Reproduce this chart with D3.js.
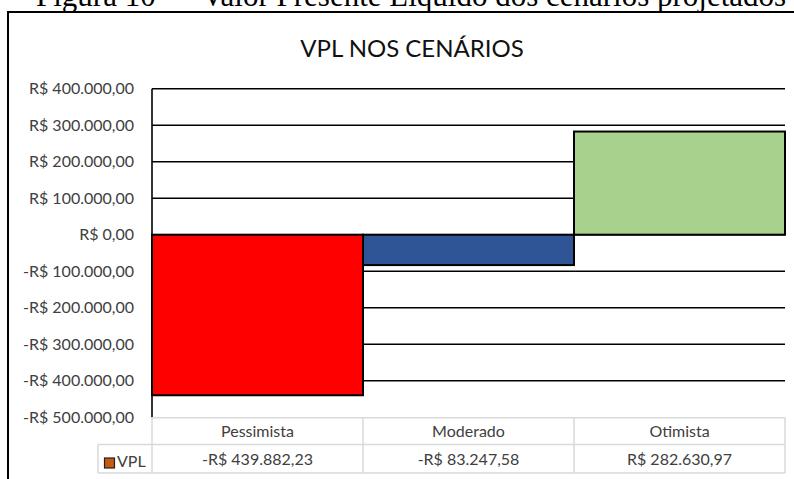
<!DOCTYPE html>
<html>
<head>
<meta charset="utf-8">
<script src="https://cdn.jsdelivr.net/npm/d3@7"></script>
<style>
  body { margin: 0; background: #fff; }
  svg { display: block; }
  .lbl { font-family: Lato, "Open Sans", sans-serif; fill: #404040; }
</style>
</head>
<body>
<div id="chart"></div>
<script>
// data
const categories = ["Pessimista", "Moderado", "Otimista"];
const vplValues = [-439882.23, -83247.58, 282630.97];
const barColors = ["#FF0000", "#2F5597", "#A9D18E"];
const yTicks = [400000, 300000, 200000, 100000, 0, -100000, -200000, -300000, -400000, -500000];
const seriesName = "VPL";
const chartTitle = "VPL NOS CENÁRIOS";
const caption = "Figura 10 — Valor Presente Líquido dos cenários projetados";

const W = 794, H = 479;

const svg = d3.select("#chart").append("svg")
  .attr("width", W)
  .attr("height", H);

// brazilian currency format
const ptBR = d3.formatLocale({
  decimal: ",",
  thousands: ".",
  grouping: [3],
  currency: ["R$ ", ""],
  minus: "-"
});
const money = ptBR.format("$,.2f");

// caption above the chart (cut off at top in the source)
svg.append("text")
  .attr("x", 36)
  .attr("y", 6)
  .style("font-family", "'Liberation Serif', 'Times New Roman', serif")
  .style("font-size", "31px")
  .attr("fill", "#000")
  .text(caption);

// chart frame
svg.append("rect")
  .attr("x", 8)
  .attr("y", 12)
  .attr("width", 820)
  .attr("height", 500)
  .attr("fill", "none")
  .attr("stroke", "#000")
  .attr("stroke-width", 2);

svg.append("text")
  .attr("class", "lbl")
  .attr("x", 412)
  .attr("y", 57)
  .attr("text-anchor", "middle")
  .style("font-size", "24px")
  .style("fill", "#111")
  .text(chartTitle);

const plotLeft = 152, plotRight = 785;

const y = d3.scaleLinear()
  .domain([-500000, 400000])
  .range([417.2, 88.7]);

const x = d3.scaleBand()
  .domain(categories)
  .range([plotLeft, plotRight])
  .padding(0);

// gridlines
svg.append("g")
  .selectAll("line")
  .data(yTicks.filter(d => d > -500000))
  .join("line")
  .attr("x1", plotLeft)
  .attr("x2", plotRight)
  .attr("y1", d => y(d))
  .attr("y2", d => y(d))
  .attr("stroke", "#000")
  .attr("stroke-width", 1.6);

// y axis with currency labels
const yAxis = d3.axisLeft(y)
  .tickValues(yTicks)
  .tickFormat(money)
  .tickSize(0)
  .tickPadding(18);

const yAxisG = svg.append("g")
  .attr("transform", "translate(" + plotLeft + ",0)")
  .call(yAxis);
yAxisG.select(".domain").remove();
yAxisG.selectAll("text")
  .attr("class", "lbl")
  .style("font-size", "16px")
  .attr("font-family", null);

// bars
svg.append("g")
  .selectAll("rect")
  .data(vplValues)
  .join("rect")
  .attr("x", (d, i) => x(categories[i]))
  .attr("width", x.bandwidth())
  .attr("y", d => y(Math.max(0, d)))
  .attr("height", d => Math.abs(y(d) - y(0)))
  .attr("fill", (d, i) => barColors[i])
  .attr("stroke", "#000")
  .attr("stroke-width", 2);

// axis line
svg.append("line")
  .attr("x1", plotLeft)
  .attr("x2", plotLeft)
  .attr("y1", y(400000))
  .attr("y2", y(-500000))
  .attr("stroke", "#000")
  .attr("stroke-width", 1.6);

// data table under the chart
const rowTop = 417.8, rowMid = 444.5, rowBot = 473;
const table = svg.append("g")
  .attr("stroke", "#D9D9D9")
  .attr("stroke-width", 1.5);

table.append("line").attr("x1", plotLeft).attr("x2", plotRight).attr("y1", rowTop).attr("y2", rowTop);
table.append("line").attr("x1", 98).attr("x2", plotRight).attr("y1", rowMid).attr("y2", rowMid);
table.append("line").attr("x1", 98).attr("x2", plotRight).attr("y1", rowBot).attr("y2", rowBot);
table.append("line").attr("x1", 98).attr("x2", 98).attr("y1", rowMid).attr("y2", rowBot);

const bounds = categories.map(c => x(c)).concat([plotRight]);
table.selectAll("line.v")
  .data(bounds)
  .join("line")
  .attr("class", "v")
  .attr("x1", d => d)
  .attr("x2", d => d)
  .attr("y1", rowTop)
  .attr("y2", rowBot);

svg.append("g")
  .selectAll("text")
  .data(categories)
  .join("text")
  .attr("class", "lbl")
  .attr("x", d => x(d) + x.bandwidth() / 2)
  .attr("y", 437)
  .attr("text-anchor", "middle")
  .style("font-size", "16px")
  .text(d => d);

svg.append("g")
  .selectAll("text")
  .data(vplValues)
  .join("text")
  .attr("class", "lbl")
  .attr("x", (d, i) => x(categories[i]) + x.bandwidth() / 2)
  .attr("y", 465)
  .attr("text-anchor", "middle")
  .style("font-size", "16px")
  .text(d => money(d));

// legend key in the table
svg.append("rect")
  .attr("x", 104.5)
  .attr("y", 458)
  .attr("width", 10)
  .attr("height", 10)
  .attr("fill", "#C55A11")
  .attr("stroke", "#222")
  .attr("stroke-width", 1.2);

svg.append("text")
  .attr("class", "lbl")
  .attr("x", 117)
  .attr("y", 467)
  .style("font-size", "16px")
  .text(seriesName);
</script>
</body>
</html>
